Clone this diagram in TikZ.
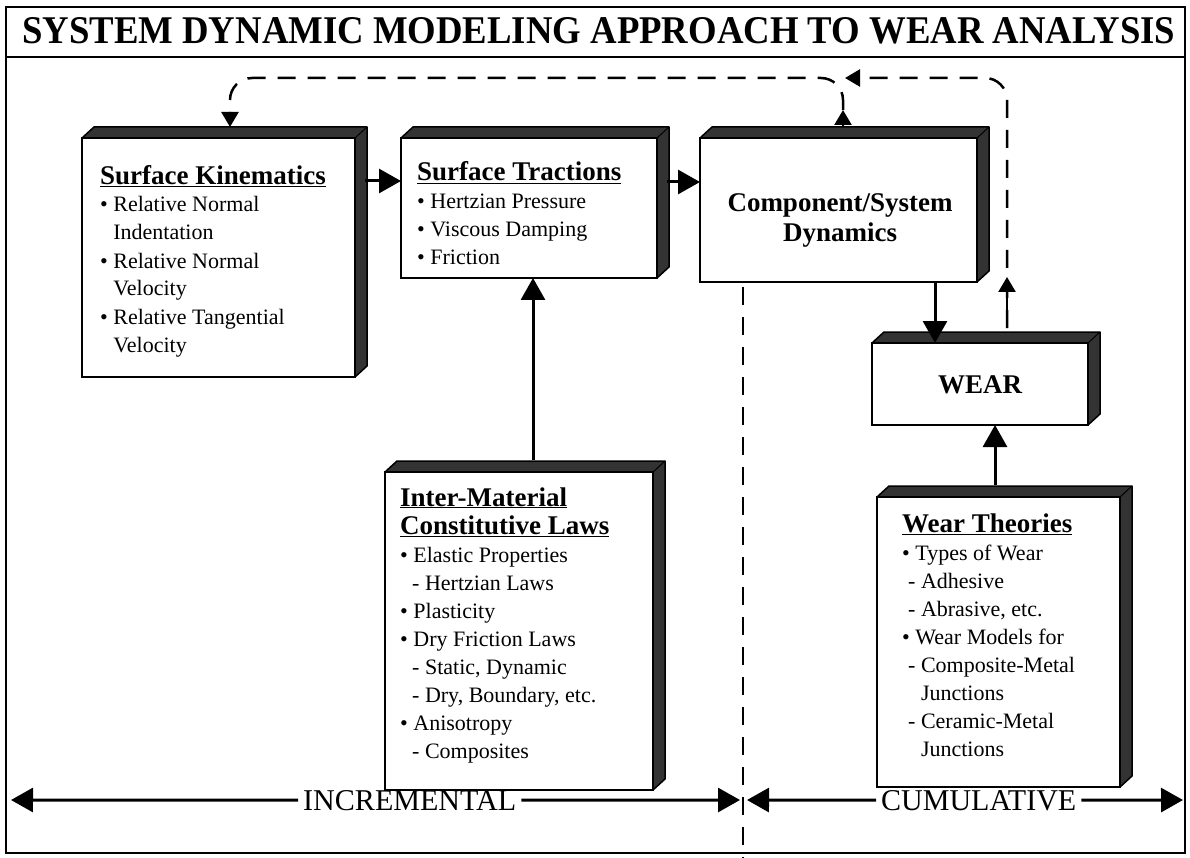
\documentclass[tikz,border=0pt]{standalone}
\usepackage{fontspec}
\setmainfont{Liberation Serif}
\usepackage{graphicx}
\usetikzlibrary{arrows.meta}

\tikzset{
  frontbox/.style={draw, line width=2.5pt, fill=white, inner sep=0pt, outer sep=0pt, anchor=north west},
  txt/.style={anchor=base west, align=left, inner sep=0pt, font=\fontsize{22}{28}\selectfont},
  conn/.style={line width=3pt, -{Triangle[length=22pt,width=24pt]}},
  sconn/.style={line width=2.5pt, -{Triangle[length=15pt,width=17pt]}},
  fb/.style={line width=2.5pt, dash pattern=on 18pt off 12pt},
  fbarrow/.style={fb, rounded corners=22pt, -{Triangle[length=15pt,width=17pt]}},
}
\newcommand{\hd}[1]{{\bfseries\fontsize{27}{28}\selectfont\underline{#1}}}
\newcommand{\dbox}[5]{%
  \fill[black!80] (#2,#3) -- ++(12,-11) -- ++(#4,0) -- ++(0,#5) -- ++(-12,11) -- ++(0,-#5) -- cycle;
  \draw[line width=1.5pt, line join=round] (#2,#3) -- ++(12,-11) -- ++(#4,0) -- ++(0,#5) -- ++(-12,11);
  \draw[line width=1pt] ({#2+#4},#3) -- ++(12,-11);
  \node[frontbox, minimum width=#4pt, minimum height=#5pt] (#1) at (#2,#3) {};
}

\begin{document}
\begin{tikzpicture}[x=1pt,y=-1pt]
\useasboundingbox (0,0) rectangle (1190,858);
\fill[white] (0,0) rectangle (1190,858);

% frame and title
\draw[line width=2.5pt] (6,7) rectangle (1185,853);
\draw[line width=2.5pt] (6,57) -- (1185,57);
\node[anchor=base west, inner sep=0pt] (title) at (22,44)
  {\resizebox{1153pt}{26pt}{\bfseries SYSTEM DYNAMIC MODELING APPROACH TO WEAR ANALYSIS}};

% boxes
\dbox{b1}{82}{138}{273}{239}
\dbox{b2}{401}{138}{256}{140}
\dbox{b3}{700}{138}{277}{144}
\dbox{wear}{872}{343}{216}{82}
\dbox{wt}{877}{497}{243}{290}
\dbox{im}{385}{472}{268}{318}

% texts (anchor = baseline of the last line)
\node[txt] (b1t) at (100,352) {\hd{Surface Kinematics}\\
  • Relative Normal\\
  \phantom{• }Indentation\\
  • Relative Normal\\
  \phantom{• }Velocity\\
  • Relative Tangential\\
  \phantom{• }Velocity};
\node[txt] (b2t) at (417,265) {\hd{Surface Tractions}\\
  • Hertzian Pressure\\
  • Viscous Damping\\
  • Friction};
\node[anchor=base, align=center, inner sep=0pt, font=\bfseries\fontsize{27}{30}\selectfont] (b3t) at (840,242)
  {Component/System\\Dynamics};
\node[anchor=base, inner sep=0pt, font=\bfseries\fontsize{27}{30}\selectfont] (weart) at (980,393) {WEAR};
\node[txt] (imt) at (400,758) {\hd{Inter-Material}\\
  \hd{Constitutive Laws}\\
  • Elastic Properties\\
  \hspace*{12pt}- Hertzian Laws\\
  • Plasticity\\
  • Dry Friction Laws\\
  \hspace*{12pt}- Static, Dynamic\\
  \hspace*{12pt}- Dry, Boundary, etc.\\
  • Anisotropy\\
  \hspace*{12pt}- Composites};
\node[txt] (wtt) at (902,756) {\hd{Wear Theories}\\
  • Types of Wear\\
  \hspace*{6pt}- Adhesive\\
  \hspace*{6pt}- Abrasive, etc.\\
  • Wear Models for\\
  \hspace*{6pt}- Composite-Metal\\
  \hspace*{6pt}\phantom{- }Junctions\\
  \hspace*{6pt}- Ceramic-Metal\\
  \hspace*{6pt}\phantom{- }Junctions};

% solid connectors
\coordinate (a1) at (365,181);
\draw[conn] (a1) -- (b2.west |- a1);
\coordinate (a2) at (667,182);
\draw[conn] (a2) -- (b3.west |- a2);
\coordinate (a3) at (935,282);
\draw[conn] (a3) -- (a3 |- wear.north);
\coordinate (a4) at (533,460);
\draw[conn] (a4) -- (a4 |- b2.south);
\coordinate (a5) at (995,485);
\draw[conn] (a5) -- (a5 |- wear.south);

% feedback loop
\coordinate (b3up) at (843,127);
\coordinate (b3tip) at (843,110);
\coordinate (b1in) at (230,127);
\coordinate (corner) at (230,78);
\coordinate (wearup) at (1007,328);
\coordinate (join) at (845,78);
\coordinate (midA) at (1007,315);
\coordinate (midB) at (1007,277);
\draw[sconn] (b3up) -- (b3tip);
\draw[fbarrow] (b3tip) |- (corner) -- (b1in);
\draw[fbarrow] (wearup) |- (join);
\draw[sconn] (midA) -- (midB);

% divider
\coordinate (divtop) at (743,287);
\coordinate (divbot) at (743,858);
\draw[fb] (divtop) -- (divbot);

% bottom labels
\node[anchor=base west, inner sep=0pt] (incr) at (303,810) {\resizebox{213pt}{20pt}{INCREMENTAL}};
\node[anchor=base west, inner sep=0pt] (cum) at (881,810) {\resizebox{195pt}{20pt}{CUMULATIVE}};
\coordinate (l1) at (11,800);
\coordinate (l2) at (740,800);
\coordinate (r1) at (747,800);
\coordinate (r2) at (1183,800);
\draw[conn] ([xshift=-5pt]incr.west) -- (l1);
\draw[conn] ([xshift=5pt]incr.east) -- (l2);
\draw[conn] ([xshift=-5pt]cum.west) -- (r1);
\draw[conn] ([xshift=5pt]cum.east) -- (r2);
\end{tikzpicture}
\end{document}
